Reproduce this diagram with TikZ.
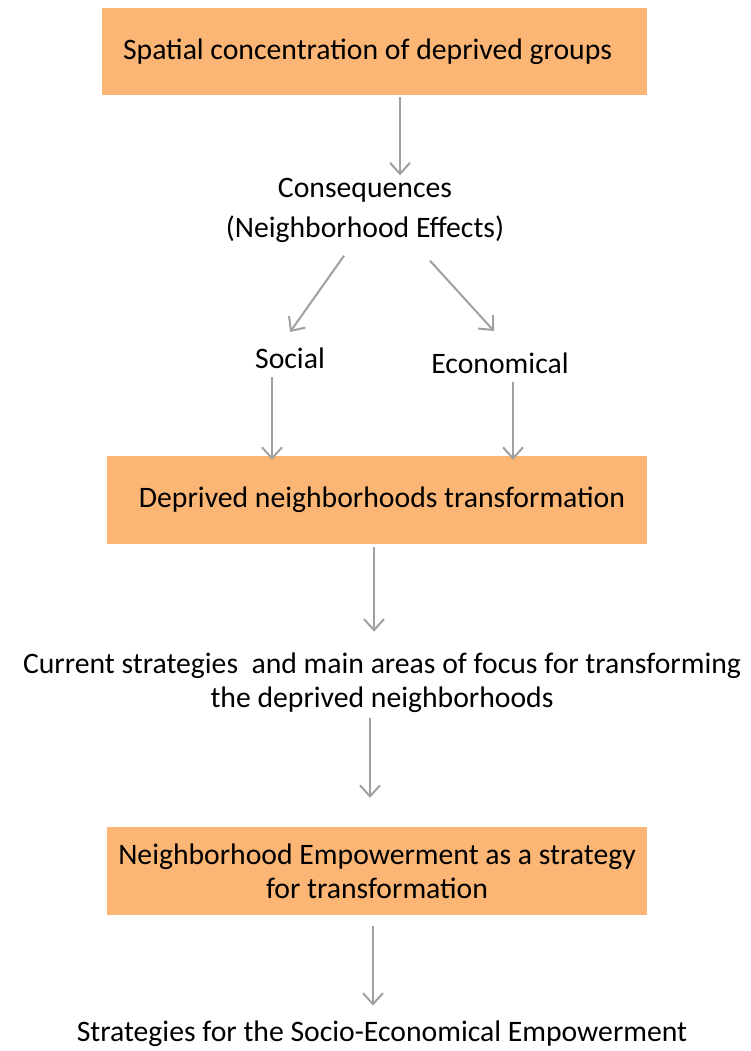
\documentclass[tikz,border=0pt]{standalone}
\usepackage{fontspec}
\setmainfont{Carlito}
\usetikzlibrary{arrows.meta}

\definecolor{boxorange}{RGB}{251,181,116}
\definecolor{arrowgray}{RGB}{160,160,160}
\def\flowfont{\fontsize{29.7}{34}\selectfont}

\begin{document}
\begin{tikzpicture}[x=1pt, y=-1pt,
  box/.style={fill=boxorange, minimum width=540pt, minimum height=88pt, align=center, font=\flowfont},
  txt/.style={align=center, font=\flowfont},
  arr/.style={draw=arrowgray, line width=2pt, -{Straight Barb[length=11pt,width=20pt,line width=2pt]}}]
  \useasboundingbox (0,0) rectangle (751,1051);

  \node[box, minimum width=545pt, minimum height=87pt] (spatial) at (374.5,51.5) {Spatial concentration of deprived groups\hspace*{14pt}};
  \node[txt] (conseq) at (365,210) {Consequences\\[6pt](Neighborhood Effects)};
  \node[txt] (social) at (290,358) {Social};
  \node[txt] (econ) at (500,363) {Economical};
  \node[box] (transf) at (377,500) {\hspace*{10pt}Deprived neighborhoods transformation};
  \node[txt] (current) at (382,683) {Current strategies\ \ and main areas of focus for transforming\\the deprived neighborhoods};
  \node[box] (empower) at (377,871) {Neighborhood Empowerment as a strategy\\for transformation};
  \node[txt] (socioecon) at (382,1034) {Strategies for the Socio-Economical Empowerment};

  \draw[arr] ([xshift=25.5pt,yshift=-2pt]spatial.south) -- ([xshift=35pt,yshift=-1pt]conseq.north);
  \draw[arr] ([xshift=-21pt,yshift=-10pt]conseq.south) -- ([yshift=12pt]social.north);
  \draw[arr] ([xshift=65pt,yshift=-15pt]conseq.south) -- ([xshift=-6pt,yshift=18pt]econ.north);
  \draw[arr] ([xshift=-18pt,yshift=-5pt]social.south) -- ([xshift=-105pt,yshift=-4pt]transf.north);
  \draw[arr] ([xshift=13pt,yshift=-5pt]econ.south) -- ([xshift=136pt,yshift=-4pt]transf.north);
  \draw[arr] ([xshift=-3pt,yshift=-3pt]transf.south) -- ([xshift=-8pt,yshift=18pt]current.north);
  \draw[arr] ([xshift=-12pt,yshift=-2pt]current.south) -- ([xshift=-7pt,yshift=29pt]empower.north);
  \draw[arr] ([xshift=-4pt,yshift=-11pt]empower.south) -- ([xshift=-9pt,yshift=12pt]socioecon.north);
\end{tikzpicture}
\end{document}
